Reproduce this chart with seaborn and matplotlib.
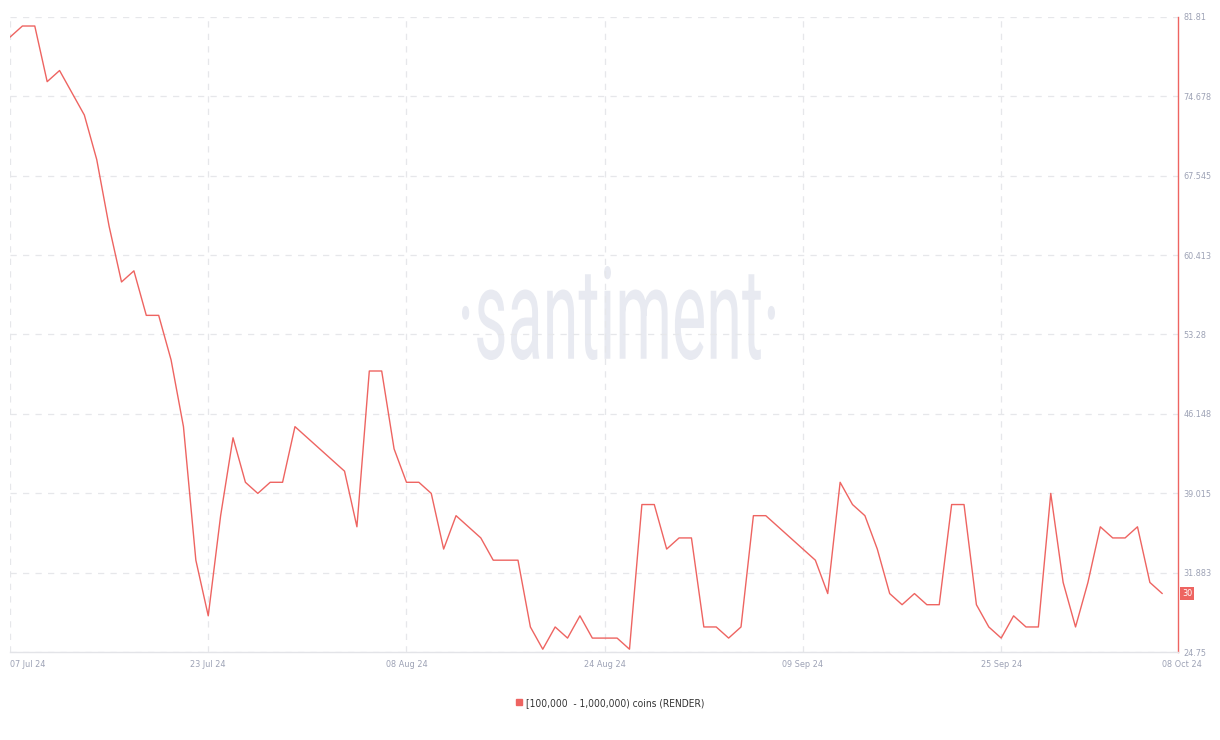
import pandas as pd
import numpy as np
import matplotlib.pyplot as plt
import matplotlib.dates as mdates
import matplotlib.transforms as mtransforms
from matplotlib.lines import Line2D
from matplotlib.textpath import TextPath
from matplotlib.font_manager import FontProperties
from matplotlib.patches import PathPatch
import seaborn as sns

# datos
fechas = pd.date_range("2024-07-07", "2024-10-08", freq="D")
valores = [80, 81, 81, 76, 77, 75, 73, 69, 63, 58,
           59, 55, 55, 51, 45, 33, 28, 37, 44, 40,
           39, 40, 40, 45, 44, 43, 42, 41, 36, 50,
           50, 43, 40, 40, 39, 34, 37, 36, 35, 33,
           33, 33, 27, 25, 27, 26, 28, 26, 26, 26,
           25, 38, 38, 34, 35, 35, 27, 27, 26, 27,
           37, 37, 36, 35, 34, 33, 30, 40, 38, 37,
           34, 30, 29, 30, 29, 29, 38, 38, 29, 27,
           26, 28, 27, 27, 39, 31, 27, 31, 36, 35,
           35, 36, 31, 30]
y_ticks = [24.75, 31.883, 39.015, 46.148, 53.28, 60.413, 67.545, 74.678, 81.81]
y_labels = ["24.75", "31.883", "39.015", "46.148", "53.28", "60.413", "67.545", "74.678", "81.81"]
x_ticks = ["2024-07-07", "2024-07-23", "2024-08-08", "2024-08-24", "2024-09-09", "2024-09-25", "2024-10-08"]
serie = "[100,000  - 1,000,000) coins (RENDER)"

df = pd.DataFrame({"fecha": fechas, "valor": valores})

rojo = "#EE6461"
gris_txt = "#9DA2B5"
gris_grid = "#E6E7EA"

sns.set_style("white")
plt.rcParams["font.family"] = ["DejaVu Sans"]
plt.rcParams["font.stretch"] = "condensed"

fig = plt.figure(figsize=(12.2, 7.4), dpi=100)
ax = fig.add_axes([10 / 1220, 88 / 740, 1168 / 1220, 635 / 740])

# marca de agua (texto condensado, en pixeles)
tp = TextPath((0, 0), "·santiment·", size=80, prop=FontProperties(family="Roboto"))
bb = tp.get_extents()
caja = (462, 775, 740 - 360, 740 - 266)  # x0, x1, y0, y1 en pixeles
tr = (mtransforms.Affine2D()
      .translate(-bb.x0, -bb.y0)
      .scale((caja[1] - caja[0]) / bb.width, (caja[3] - caja[2]) / bb.height)
      .translate(caja[0], caja[2]))
fig.add_artist(PathPatch(tr.transform_path(tp), transform=mtransforms.IdentityTransform(),
                         facecolor="#E8EAF1", edgecolor="none", zorder=0))

sns.lineplot(data=df, x="fecha", y="valor", ax=ax, color=rojo, linewidth=1.0, zorder=3)
ax.patch.set_alpha(0)

ax.set_ylim(y_ticks[0], y_ticks[-1])
x0 = pd.Timestamp("2024-07-07")
ax.set_xlim(x0, x0 + pd.Timedelta(days=94.27))

ax.yaxis.tick_right()
ax.set_yticks(y_ticks)
ax.set_yticklabels(y_labels)
ax.set_xticks(pd.to_datetime(x_ticks))
ax.xaxis.set_major_formatter(mdates.DateFormatter("%d %b %y"))
ax.tick_params(axis="both", length=0, labelsize=6.5, labelcolor=gris_txt)
ax.tick_params(axis="y", pad=4)
ax.tick_params(axis="x", pad=6)
ax.set_xlabel("")
ax.set_ylabel("")

labs = ax.get_xticklabels()
labs[0].set_ha("left")
labs[-1].set_ha("left")

# rejilla
ax.grid(True, axis="y", color=gris_grid, linestyle=(0, (5, 5)), linewidth=0.9)
for d in x_ticks[:-1]:
    ax.axvline(pd.Timestamp(d), color=gris_grid, linestyle=(0, (5, 5)), linewidth=0.9, zorder=1)
for s in ["top", "left"]:
    ax.spines[s].set_visible(False)
ax.spines["right"].set_color(rojo)
ax.spines["right"].set_linewidth(1.0)
ax.spines["bottom"].set_color("#E3E4E8")
ax.spines["bottom"].set_linewidth(1.0)

# etiqueta ultimo valor
trans = mtransforms.blended_transform_factory(ax.transAxes, ax.transData)
ax.text(1.0035, valores[-1], str(valores[-1]), transform=trans, ha="left", va="center",
        fontsize=6.5, color="white",
        bbox=dict(boxstyle="square,pad=0.25", facecolor=rojo, edgecolor="none"), clip_on=False)

# leyenda
h = Line2D([], [], marker="s", linestyle="none", color=rojo, markersize=5)
fig.legend([h], [serie], loc="center", bbox_to_anchor=(0.5, 0.05), frameon=False,
           fontsize=7.3, handletextpad=0.3, handlelength=0.8, labelcolor="#333333")

plt.savefig("out.png", dpi=100)
plt.close()
